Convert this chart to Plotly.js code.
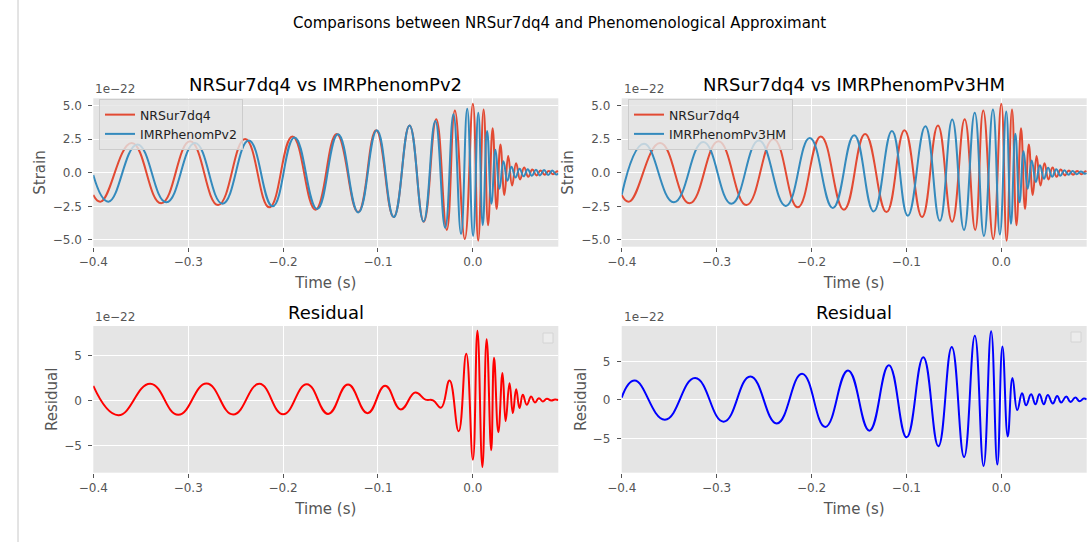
<!DOCTYPE html>
<html>
<head>
<meta charset="utf-8">
<script src="https://cdn.plot.ly/plotly-3.0.1.min.js"></script>
<style>
  html, body { margin: 0; padding: 0; background: #ffffff; }
  #chart { width: 1089px; height: 542px; }
</style>
</head>
<body>
<div id="chart"></div>
<script>
// ---- Data (strain values in units of 1e-22, time in seconds) ----
// NRSur7dq4 waveform: extrema
const nrsurT = [-0.400, -0.392, -0.3595, -0.3285, -0.2980, -0.2685, -0.2400, -0.2145, -0.1902, -0.1658,
  -0.1435, -0.1210, -0.1020, -0.0835, -0.0668, -0.0518, -0.0386, -0.0275, -0.0190, -0.0085,
  0.0000, 0.0056, 0.0113, 0.0160, 0.0208, 0.0250, 0.0290, 0.0332, 0.0372, 0.0413,
  0.0455, 0.0497, 0.0540, 0.0583, 0.0626, 0.0670, 0.0713, 0.0756, 0.0800, 0.0843, 0.0887, 0.0900];
const nrsurH = [-1.65, -2.15, 2.20, -2.27, 2.33, -2.40, 2.50, -2.57, 2.70, -2.75,
  2.88, -2.93, 3.15, -3.30, 3.50, -3.65, 3.97, -4.25, 4.62, -4.92,
  5.12, -5.05, 4.70, -3.90, 3.30, -2.70, 2.10, -1.65, 1.25, -0.95,
  0.70, -0.50, 0.38, -0.30, 0.24, -0.20, 0.17, -0.15, 0.13, -0.11, 0.10, 0.05];

// IMRPhenomPv2 waveform
const pv2T = [-0.400, -0.384, -0.3535, -0.3230, -0.2928, -0.2638, -0.2362, -0.2110, -0.1880, -0.1642,
  -0.1422, -0.1207, -0.1012, -0.0834, -0.0668, -0.0520, -0.0396, -0.0292, -0.0205, -0.0125,
  -0.0060, 0.0002, 0.0057, 0.0104, 0.0150, 0.0195, 0.0238, 0.0280, 0.0322, 0.0364,
  0.0406, 0.0449, 0.0492, 0.0535, 0.0578, 0.0621, 0.0664, 0.0707, 0.0750, 0.0793, 0.0836, 0.0879, 0.0900];
const pv2H = [-0.17, -2.15, 2.10, -2.20, 2.20, -2.30, 2.40, -2.50, 2.62, -2.70,
  2.85, -2.95, 3.15, -3.30, 3.50, -3.62, 3.85, -4.10, 4.35, -4.55,
  4.75, -4.70, 4.45, -3.90, 3.10, -2.30, 1.70, -1.20, 0.85, -0.60,
  0.45, -0.35, 0.30, -0.27, 0.25, -0.23, 0.22, -0.20, 0.20, -0.18, 0.16, -0.14, -0.05];

// IMRPhenomPv3HM waveform
const pv3T = [-0.400, -0.3765, -0.3450, -0.3140, -0.2843, -0.2555, -0.2270, -0.2018, -0.1775, -0.1550,
  -0.1345, -0.1152, -0.0985, -0.0800, -0.0648, -0.0517, -0.0393, -0.0280, -0.0183, -0.0088,
  -0.0015, 0.0052, 0.0102, 0.0148, 0.0192, 0.0235, 0.0278, 0.0321, 0.0364, 0.0407,
  0.0450, 0.0493, 0.0536, 0.0579, 0.0622, 0.0665, 0.0708, 0.0751, 0.0794, 0.0837, 0.0880, 0.0900];
const pv3H = [-1.65, 2.15, -2.20, 2.28, -2.30, 2.40, -2.47, 2.58, -2.62, 2.78,
  -2.88, 3.10, -3.20, 3.45, -3.58, 3.95, -4.25, 4.45, -4.70, 4.70,
  -4.60, 4.55, -3.80, 2.90, -2.20, 1.60, -1.20, 0.90, -0.70, 0.55,
  -0.45, 0.37, -0.30, 0.25, -0.22, 0.18, -0.15, 0.13, -0.11, 0.09, -0.07, -0.02];

// Residual vs IMRPhenomPv2
const res2T = [-0.400, -0.3737, -0.3400, -0.3105, -0.2807, -0.2526, -0.2250, -0.2000, -0.1750, -0.1526,
  -0.1316, -0.1110, -0.0925, -0.0760, -0.0608, -0.0500, -0.0420, -0.0335, -0.0246, -0.0150,
  -0.0070, 0.0000, 0.0048, 0.0100, 0.0145, 0.0193, 0.0223, 0.0268, 0.0312, 0.0345,
  0.0386, 0.0421, 0.0456, 0.0491, 0.0526, 0.0568, 0.0614, 0.0653, 0.0695, 0.0737,
  0.0779, 0.0825, 0.0865, 0.0900];
const res2H = [1.63, -1.65, 1.86, -1.60, 1.89, -1.57, 1.85, -1.54, 1.82, -1.50,
  1.77, -1.42, 1.63, -1.00, 0.89, 0.10, 0.02, -0.80, 2.22, -3.44,
  5.20, -6.60, 7.78, -7.41, 6.81, -5.56, 4.75, -3.53, 3.07, -2.30,
  1.93, -1.41, 1.26, -0.85, 0.63, -0.48, 0.44, -0.22, 0.26, -0.11,
  0.19, 0.00, 0.10, 0.05];

// Residual vs IMRPhenomPv3HM
const res3T = [-0.400, -0.3864, -0.3545, -0.3226, -0.2926, -0.2644, -0.2365, -0.2099, -0.1855, -0.1615,
  -0.1390, -0.1185, -0.0998, -0.0822, -0.0663, -0.0522, -0.0392, -0.0279, -0.0187, -0.0107,
  -0.0042, 0.0012, 0.0068, 0.0118, 0.0168, 0.0219, 0.0261, 0.0314, 0.0360, 0.0402,
  0.0448, 0.0490, 0.0543, 0.0589, 0.0631, 0.0684, 0.0730, 0.0780, 0.0825, 0.0870, 0.0900];
const res3H = [0.30, 2.52, -2.56, 2.84, -2.82, 3.05, -3.05, 3.40, -3.50, 3.83,
  -3.99, 4.51, -4.85, 5.54, -6.01, 6.87, -7.42, 8.33, -8.58, 8.93,
  -8.40, 6.95, -4.75, 2.85, -1.32, 0.86, -0.69, 0.73, -0.56, 0.73,
  -0.56, 0.64, -0.47, 0.52, -0.34, 0.43, -0.26, 0.30, -0.17, 0.20, 0.05];

const xTicks = [-0.4, -0.3, -0.2, -0.1, 0.0];
const strainTicks = [-5.0, -2.5, 0.0, 2.5, 5.0];
const residualTicks = [-5, 0, 5];

// ---- Layout geometry ----
const W = 1089, H = 542;
const px = v => v / W;
const py = v => 1 - v / H;

const RED = '#E24A33', BLUE = '#348ABD';
const FONT = 'DejaVu Sans, Liberation Sans, sans-serif';

const line = (color) => ({ color: color, width: 2, shape: 'spline', smoothing: 1.3 });

const traces = [
  { x: nrsurT, y: nrsurH, type: 'scatter', mode: 'lines', name: 'NRSur7dq4', line: line(RED), xaxis: 'x', yaxis: 'y', legend: 'legend' },
  { x: pv2T, y: pv2H, type: 'scatter', mode: 'lines', name: 'IMRPhenomPv2', line: line(BLUE), xaxis: 'x', yaxis: 'y', legend: 'legend' },
  { x: nrsurT, y: nrsurH, type: 'scatter', mode: 'lines', name: 'NRSur7dq4', line: line(RED), xaxis: 'x2', yaxis: 'y2', legend: 'legend2' },
  { x: pv3T, y: pv3H, type: 'scatter', mode: 'lines', name: 'IMRPhenomPv3HM', line: line(BLUE), xaxis: 'x2', yaxis: 'y2', legend: 'legend2' },
  { x: res2T, y: res2H, type: 'scatter', mode: 'lines', name: 'Residual Pv2', line: line('#FF0000'), xaxis: 'x3', yaxis: 'y3', showlegend: false },
  { x: res3T, y: res3H, type: 'scatter', mode: 'lines', name: 'Residual Pv3HM', line: line('#0000FF'), xaxis: 'x4', yaxis: 'y4', showlegend: false }
];

const xDomL = [px(93.3), px(558.3)];
const xDomR = [px(621.7), px(1086.7)];
const yDomT = [py(246.7), py(98.3)];
const yDomB = [py(472.7), py(326.0)];

function xAxis(domain, anchor) {
  return {
    domain: domain, anchor: anchor, range: [-0.4, 0.09],
    tickmode: 'array', tickvals: xTicks, tickformat: '.1f',
    ticks: 'outside', ticklen: 4, tickwidth: 1, tickcolor: '#555555',
    tickfont: { family: FONT, size: 12, color: '#555555' },
    showgrid: true, gridcolor: '#FFFFFF', gridwidth: 1,
    zeroline: false, showline: false,
    title: { text: 'Time (s)', font: { family: FONT, size: 15, color: '#555555' }, standoff: 9 }
  };
}
function yAxis(domain, anchor, range, ticks, fmt, title, standoff) {
  return {
    domain: domain, anchor: anchor, range: range,
    tickmode: 'array', tickvals: ticks, tickformat: fmt,
    ticks: 'outside', ticklen: 4, tickwidth: 1, tickcolor: '#555555',
    ticklabelstandoff: 4,
    tickfont: { family: FONT, size: 12, color: '#555555' },
    showgrid: true, gridcolor: '#FFFFFF', gridwidth: 1,
    zeroline: false, showline: false,
    title: { text: title, font: { family: FONT, size: 15, color: '#555555' }, standoff: standoff }
  };
}

const legendBase = {
  xanchor: 'left', yanchor: 'top',
  bgcolor: 'rgba(229,229,229,0.8)', bordercolor: '#CCCCCC', borderwidth: 1,
  font: { family: FONT, size: 12.5, color: '#222222' },
  itemwidth: 30, tracegroupgap: 0
};

const annotations = [
  { text: 'Comparisons between NRSur7dq4 and Phenomenological Approximant', x: px(559), y: py(23),
    xref: 'paper', yref: 'paper', showarrow: false, xanchor: 'center', yanchor: 'middle',
    font: { family: FONT, size: 15, color: '#000000' } },
  { text: 'NRSur7dq4 vs IMRPhenomPv2', x: px(325.8), y: py(84), xref: 'paper', yref: 'paper', showarrow: false,
    xanchor: 'center', yanchor: 'middle', font: { family: FONT, size: 18, color: '#000000' } },
  { text: 'NRSur7dq4 vs IMRPhenomPv3HM', x: px(854.2), y: py(84), xref: 'paper', yref: 'paper', showarrow: false,
    xanchor: 'center', yanchor: 'middle', font: { family: FONT, size: 18, color: '#000000' } },
  { text: 'Residual', x: px(325.8), y: py(312), xref: 'paper', yref: 'paper', showarrow: false,
    xanchor: 'center', yanchor: 'middle', font: { family: FONT, size: 18, color: '#000000' } },
  { text: 'Residual', x: px(854.2), y: py(312), xref: 'paper', yref: 'paper', showarrow: false,
    xanchor: 'center', yanchor: 'middle', font: { family: FONT, size: 18, color: '#000000' } },
  { text: '1e\u221222', x: px(93), y: py(89), xref: 'paper', yref: 'paper', showarrow: false,
    xanchor: 'left', yanchor: 'middle', font: { family: FONT, size: 12, color: '#555555' } },
  { text: '1e\u221222', x: px(621.5), y: py(89), xref: 'paper', yref: 'paper', showarrow: false,
    xanchor: 'left', yanchor: 'middle', font: { family: FONT, size: 12, color: '#555555' } },
  { text: '1e\u221222', x: px(93), y: py(317), xref: 'paper', yref: 'paper', showarrow: false,
    xanchor: 'left', yanchor: 'middle', font: { family: FONT, size: 12, color: '#555555' } },
  { text: '1e\u221222', x: px(621.5), y: py(317), xref: 'paper', yref: 'paper', showarrow: false,
    xanchor: 'left', yanchor: 'middle', font: { family: FONT, size: 12, color: '#555555' } }
];

const shapes = [
  { type: 'line', xref: 'paper', yref: 'paper', x0: px(18), x1: px(18), y0: 0, y1: 1,
    line: { color: '#C8C8C8', width: 1 } },
  { type: 'rect', xref: 'paper', yref: 'paper', x0: px(543), x1: px(553), y0: py(343), y1: py(333),
    fillcolor: 'rgba(236,236,236,0.9)', line: { color: '#D4D4D4', width: 1 } },
  { type: 'rect', xref: 'paper', yref: 'paper', x0: px(1071), x1: px(1081), y0: py(342), y1: py(332),
    fillcolor: 'rgba(236,236,236,0.9)', line: { color: '#D4D4D4', width: 1 } }
];

const layout = {
  width: W, height: H, autosize: false,
  margin: { l: 0, r: 0, t: 0, b: 0, pad: 0 },
  paper_bgcolor: '#FFFFFF', plot_bgcolor: '#E5E5E5',
  font: { family: FONT, size: 12, color: '#555555' },
  showlegend: true,
  xaxis: xAxis(xDomL, 'y'),
  yaxis: yAxis(yDomT, 'x', [-5.5, 5.53], strainTicks, '.1f', 'Strain', 3),
  xaxis2: xAxis(xDomR, 'y2'),
  yaxis2: yAxis(yDomT, 'x2', [-5.5, 5.53], strainTicks, '.1f', 'Strain', 3),
  xaxis3: xAxis(xDomL, 'y3'),
  yaxis3: yAxis(yDomB, 'x3', [-8.05, 8.3], residualTicks, 'd', 'Residual', 2),
  xaxis4: xAxis(xDomR, 'y4'),
  yaxis4: yAxis(yDomB, 'x4', [-9.45, 9.6], residualTicks, 'd', 'Residual', 2),
  legend: Object.assign({}, legendBase, { x: px(99), y: py(99) }),
  legend2: Object.assign({}, legendBase, { x: px(628), y: py(99) }),
  annotations: annotations,
  shapes: shapes
};

Plotly.newPlot('chart', traces, layout, { staticPlot: true, displayModeBar: false });
</script>
</body>
</html>
